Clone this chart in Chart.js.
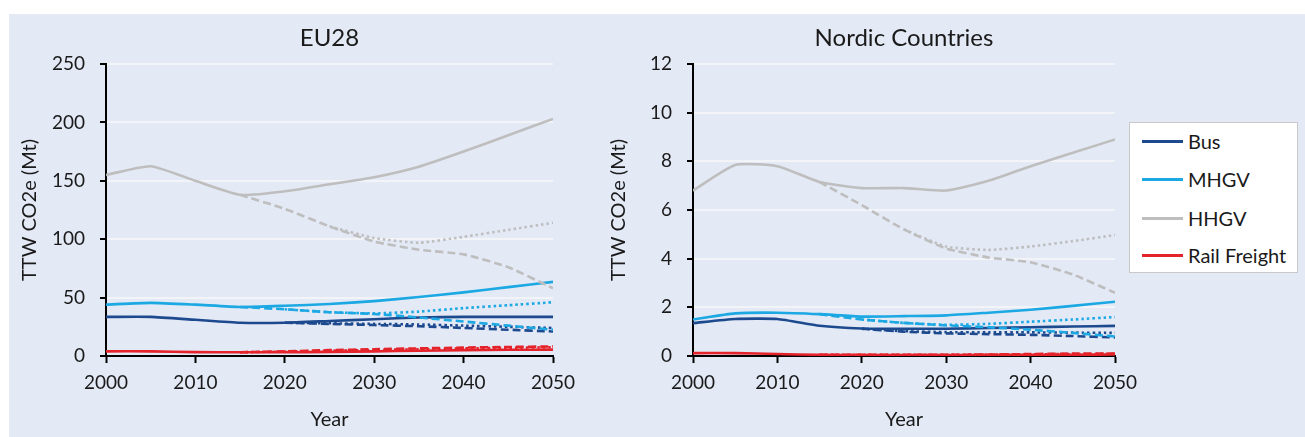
<!DOCTYPE html>
<html>
<head>
<meta charset="utf-8">
<script src="https://cdn.jsdelivr.net/npm/chart.js@4.4.1/dist/chart.umd.min.js"></script>
<style>
  html, body { margin: 0; padding: 0; background: #ffffff; }
  #wrap { position: relative; width: 1305px; height: 437px; overflow: hidden; }
  #panel { position: absolute; left: 9px; top: 14px; right: 0; bottom: 0; background: #e4e9f6; }
  canvas { position: absolute; top: 0; }
  #legend {
    position: absolute; left: 1129px; top: 122px; width: 167px; height: 149px;
    background: #ffffff; border: 1px solid #c9c9c9;
    font-family: Lato, sans-serif; font-size: 20px; color: #1a1a1a;
  }
  .item { position: absolute; left: 12px; height: 26px; display: flex; align-items: center; white-space: nowrap; }
  .sw { width: 41px; height: 3px; margin-right: 5px; }
</style>
</head>
<body>
<div id="wrap">
  <div id="panel"></div>
  <canvas id="eu" width="600" height="437" style="left:0"></canvas>
  <canvas id="nordic" width="705" height="437" style="left:600px"></canvas>
  <div id="legend"></div>
</div>
<script>
// Years on the x axis (5-year steps)
const years = [2000, 2005, 2010, 2015, 2020, 2025, 2030, 2035, 2040, 2045, 2050];

// Vehicle categories and their colours
const categories = ['Bus', 'MHGV', 'HHGV', 'Rail Freight'];
const colors = ['#1d4a8e', '#1ba8e3', '#bebebe', '#e5232b'];

// EU28 – tank-to-wheel emissions (Mt CO2e); solid = baseline, dashed / dotted = scenarios
const euBus          = [33.5, 33.5, 31, 28.5, 28.5, 30, 31.5, 33, 33.5, 33.5, 33.5];
const euBusDashed    = [null, null, null, null, 28.5, 27.5, 26.5, 25.5, 24, 22.5, 21];
const euBusDotted    = [null, null, null, null, 28.5, 28, 27.5, 27, 26, 25, 24];
const euMhgv         = [44, 45.5, 44, 42, 43, 44.5, 47, 50.5, 54.5, 59, 63.5];
const euMhgvDashed   = [null, null, null, 42, 40, 37.5, 36, 33, 29.5, 26, 22.5];
const euMhgvDotted   = [null, null, null, null, 40, 37.5, 36.5, 38, 41, 43.5, 46];
const euHhgv         = [155, 162.5, 150, 138, 141, 147, 153, 162, 175, 189, 203];
const euHhgvDashed   = [null, null, null, 138, 126, 111, 98, 91, 87, 76, 58];
const euHhgvDotted   = [null, null, null, null, null, 111, 101, 97, 102, 108, 114];
const euRail         = [4, 4, 3.3, 3.2, 3.2, 3.5, 4, 4.5, 5, 5.3, 5.5];
const euRailDashed   = [null, null, null, 3.2, 4, 5, 5.8, 6.5, 7.2, 7.7, 8.2];
const euRailDotted   = [null, null, null, 3.2, 3.8, 4.5, 5.2, 5.8, 6.5, 7, 7.5];

// Nordic countries – tank-to-wheel emissions (Mt CO2e)
const noBus          = [1.35, 1.52, 1.52, 1.24, 1.13, 1.12, 1.12, 1.15, 1.18, 1.21, 1.24];
const noBusDashed    = [null, null, null, null, 1.12, 1.0, 0.93, 0.9, 0.87, 0.82, 0.76];
const noBusDotted    = [null, null, null, null, 1.12, 1.02, 0.98, 0.97, 0.97, 0.96, 0.95];
const noMhgv         = [1.5, 1.75, 1.78, 1.72, 1.62, 1.64, 1.67, 1.78, 1.9, 2.06, 2.23];
const noMhgvDashed   = [null, null, null, 1.72, 1.5, 1.36, 1.26, 1.18, 1.08, 0.95, 0.8];
const noMhgvDotted   = [null, null, null, null, 1.5, 1.36, 1.28, 1.32, 1.41, 1.5, 1.6];
const noHhgv         = [6.8, 7.85, 7.8, 7.15, 6.9, 6.9, 6.8, 7.2, 7.8, 8.35, 8.9];
const noHhgvDashed   = [null, null, null, 7.15, 6.2, 5.2, 4.42, 4.05, 3.85, 3.35, 2.6];
const noHhgvDotted   = [null, null, null, null, null, 5.2, 4.5, 4.36, 4.5, 4.72, 4.97];
const noRail         = [0.12, 0.12, 0.08, 0.05, 0.04, 0.04, 0.04, 0.04, 0.05, 0.05, 0.06];
const noRailDashed   = [null, null, null, 0.05, 0.05, 0.05, 0.05, 0.06, 0.08, 0.1, 0.1];
const noRailDotted   = [null, null, null, 0.05, 0.05, 0.05, 0.05, 0.06, 0.07, 0.08, 0.09];

// Axis tick settings
const euTicks = { max: 250, step: 50 };
const noTicks = { max: 12, step: 2 };

const FONT = 'Lato, sans-serif';
const TEXT = '#1a1a1a';
const dashes = { solid: [], dashed: [8, 4], dotted: [2.5, 3] };

function series(values, colorIdx, style) {
  return {
    data: years.map((y, i) => ({ x: y, y: values[i] })),
    borderColor: colors[colorIdx],
    backgroundColor: colors[colorIdx],
    borderWidth: 2.6,
    borderDash: dashes[style],
    borderCapStyle: 'butt',
    pointRadius: 0,
    tension: 0.18,
    fill: false,
    spanGaps: false
  };
}

// First dataset is drawn on top
function buildSets(bus, busD, busT, mh, mhD, mhT, hh, hhD, hhT, rail, railD, railT) {
  return [
    series(rail, 3, 'solid'), series(railD, 3, 'dashed'), series(railT, 3, 'dotted'),
    series(hh, 2, 'solid'), series(hhD, 2, 'dashed'), series(hhT, 2, 'dotted'),
    series(mh, 1, 'solid'), series(mhD, 1, 'dashed'), series(mhT, 1, 'dotted'),
    series(bus, 0, 'solid'), series(busD, 0, 'dashed'), series(busT, 0, 'dotted')
  ];
}

function makeChart(id, title, datasets, ticks, yWidth, rightPad, yTitlePad) {
  return new Chart(document.getElementById(id), {
    type: 'line',
    data: { datasets },
    options: {
      responsive: false,
      animation: false,
      devicePixelRatio: 1,
      layout: { padding: { left: 0, right: rightPad, top: 0, bottom: 0 } },
      plugins: {
        legend: { display: false },
        tooltip: { enabled: false },
        title: {
          display: true, text: title, fullSize: false, color: TEXT,
          font: { family: FONT, size: 24, weight: 'normal', lineHeight: 1.2 },
          padding: { top: 24, bottom: 11.2 }
        }
      },
      scales: {
        x: {
          type: 'linear', min: 2000, max: 2050,
          ticks: {
            stepSize: 10, maxRotation: 0, color: TEXT, padding: 8,
            font: { family: FONT, size: 19 },
            callback: v => String(v)
          },
          grid: { drawOnChartArea: false, drawTicks: true, tickLength: 7, tickColor: '#000', tickWidth: 2 },
          border: { display: true, color: '#000', width: 2 },
          title: {
            display: true, text: 'Year', color: TEXT,
            font: { family: FONT, size: 20 }, padding: { top: 0, bottom: 5 }
          },
          afterFit: s => { s.height = 81; }
        },
        y: {
          min: 0, max: ticks.max,
          ticks: { stepSize: ticks.step, color: TEXT, padding: 15, font: { family: FONT, size: 19 } },
          grid: { color: '#f3f4f7', lineWidth: 2, tickColor: '#000', tickLength: 6, tickWidth: 2 },
          border: { display: true, color: '#000', width: 2 },
          title: {
            display: true, text: 'TTW CO2e (Mt)', color: TEXT,
            font: { family: FONT, size: 20 }, padding: { top: yTitlePad, bottom: 0 }
          },
          afterFit: s => { s.width = yWidth; }
        }
      }
    }
  });
}

makeChart('eu', 'EU28',
  buildSets(euBus, euBusDashed, euBusDotted, euMhgv, euMhgvDashed, euMhgvDotted,
            euHhgv, euHhgvDashed, euHhgvDotted, euRail, euRailDashed, euRailDotted),
  euTicks, 106, 47, 18);

makeChart('nordic', 'Nordic Countries',
  buildSets(noBus, noBusDashed, noBusDotted, noMhgv, noMhgvDashed, noMhgvDotted,
            noHhgv, noHhgvDashed, noHhgvDotted, noRail, noRailDashed, noRailDotted),
  noTicks, 93, 190, 7);

// Legend box
const rowTops = [5, 43, 82, 119];
const legend = document.getElementById('legend');
categories.forEach((name, i) => {
  const row = document.createElement('div');
  row.className = 'item';
  row.style.top = rowTops[i] + 'px';
  const sw = document.createElement('span');
  sw.className = 'sw';
  sw.style.background = colors[i];
  const tx = document.createElement('span');
  tx.textContent = name;
  row.appendChild(sw);
  row.appendChild(tx);
  legend.appendChild(row);
});
</script>
</body>
</html>
